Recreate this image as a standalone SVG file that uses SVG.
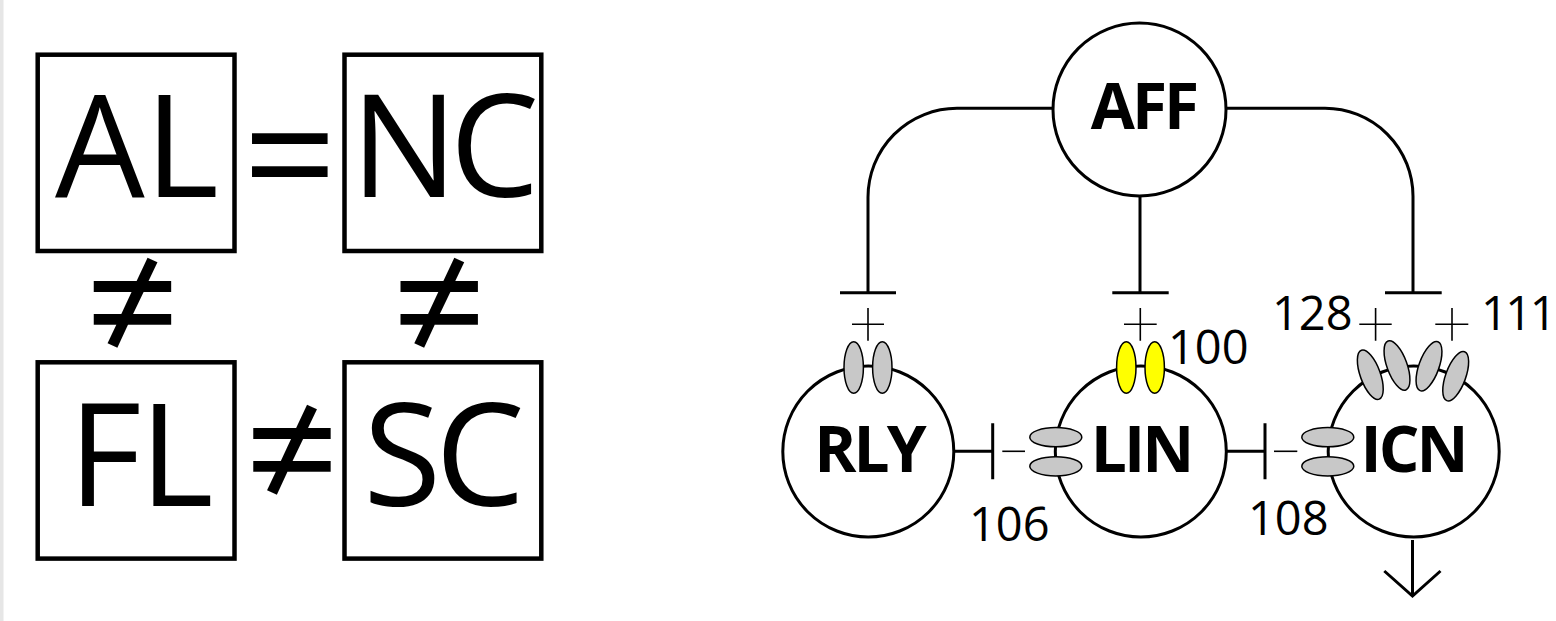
<svg xmlns="http://www.w3.org/2000/svg" width="1556" height="621" viewBox="0 0 1556 621">
  <defs>
    <style>
      .box { fill: #ffffff; stroke: #000000; stroke-width: 4.5; }
      .big { font-family: "Open Sans", "Liberation Sans", sans-serif; font-size: 142px; fill: #000000; text-anchor: middle; }
      .sym { font-family: "Open Sans", "DejaVu Sans", sans-serif; font-size: 165px; fill: #000000; text-anchor: middle; }
      .cell { fill: #ffffff; stroke: #000000; stroke-width: 3; }
      .name { font-family: "Open Sans", "Liberation Sans", sans-serif; font-weight: 700; font-size: 64px; fill: #000000; text-anchor: middle; letter-spacing: -3px; }
      .num { font-family: "Open Sans", "Liberation Sans", sans-serif; font-size: 47px; fill: #000000; }
      .wire { fill: none; stroke: #000000; stroke-width: 3; }
      .thin { fill: none; stroke: #000000; stroke-width: 1.6; }
      .syn { fill: #c8c8c8; stroke: #000000; stroke-width: 1.5; }
      .syny { fill: #ffff00; stroke: #000000; stroke-width: 1.5; }
    </style>
  </defs>
  <rect x="0" y="0" width="1556" height="621" fill="#ffffff"/>
  <rect x="0" y="0" width="3.5" height="621" fill="#e6e6e6"/>

  <!-- Left panel -->
  <g id="node-AL">
    <rect class="box" x="37.7" y="54.7" width="196.8" height="196.3"/>
    <text class="big" x="137" y="197">AL</text>
  </g>
  <g id="node-NC">
    <rect class="box" x="344.5" y="54.7" width="196.8" height="196.3"/>
    <text class="big" x="441" y="197" letter-spacing="-8">NC</text>
  </g>
  <g id="node-FL">
    <rect class="box" x="37.7" y="362.3" width="196.8" height="196.3"/>
    <text class="big" x="140" y="505.5" letter-spacing="-2">FL</text>
  </g>
  <g id="node-SC">
    <rect class="box" x="344.5" y="362.3" width="196.8" height="196.3"/>
    <text class="big" x="441" y="505.5" letter-spacing="-6">SC</text>
  </g>
  <g id="relations">
    <text class="sym" x="290" y="213">=</text>
    <text class="sym" x="132.5" y="361">≠</text>
    <text class="sym" x="439.2" y="361">≠</text>
    <text class="sym" x="292" y="508">≠</text>
  </g>

  <!-- Connectors -->
  <g id="connectors">
    <path class="wire" d="M1053,108.3 H957 A89,89 0 0 0 868,197.3 V292.7"/>
    <path class="wire" d="M1140,196 V292.7"/>
    <path class="wire" d="M1226,108.3 H1325 A88,88 0 0 1 1413,196.3 V292.7"/>
    <path class="wire" d="M840,292.7 H896 M1112.3,292.7 H1168.7 M1385,292.7 H1441.7"/>
    <path class="thin" d="M852,324.3 H884 M868,308 V340.7"/>
    <path class="thin" d="M1124,324.3 H1156.7 M1140.3,308 V340.7"/>
    <path class="thin" d="M1359.3,324.3 H1391.7 M1375.6,308 V340.7"/>
    <path class="thin" d="M1435.3,324.3 H1468.3 M1452,308 V340.7"/>
    <path class="wire" d="M954,451.3 H992.7 M992.7,423.3 V479.3"/>
    <path class="thin" d="M1002.3,451.3 H1025"/>
    <path class="wire" d="M1227,451.3 H1265 M1265,423.3 V479.3"/>
    <path class="thin" d="M1274,451.3 H1297.3"/>
    <path class="wire" d="M1412.5,540 V596 M1384.3,571 L1412.5,596 L1440.5,571"/>
  </g>

  <!-- Nodes -->
  <g id="node-AFF">
    <circle class="cell" cx="1139.5" cy="109.5" r="86.5"/>
    <text class="name" x="1143.5" y="129" letter-spacing="-2">AFF</text>
  </g>
  <g id="node-RLY">
    <circle class="cell" cx="868.3" cy="451.5" r="85.5"/>
    <ellipse class="syn" cx="853.7" cy="367.5" rx="9.7" ry="25.7"/>
    <ellipse class="syn" cx="882.3" cy="367.5" rx="9.7" ry="25.7"/>
    <text class="name" x="869" y="472.3">RLY</text>
  </g>
  <g id="node-LIN">
    <circle class="cell" cx="1140.8" cy="451.5" r="85.5"/>
    <ellipse class="syny" cx="1126.3" cy="367.5" rx="9.7" ry="25.7"/>
    <ellipse class="syny" cx="1154.7" cy="367.5" rx="9.7" ry="25.7"/>
    <ellipse class="syn" cx="1055.8" cy="437.2" rx="26" ry="9.6"/>
    <ellipse class="syn" cx="1055.8" cy="466.3" rx="26" ry="9.6"/>
    <text class="name" x="1141" y="472.3">LIN</text>
  </g>
  <g id="node-ICN">
    <circle class="cell" cx="1413.7" cy="451.5" r="85.5"/>
    <ellipse class="syn" cx="1370.3" cy="374.7" rx="10" ry="26" transform="rotate(-20 1370.3 374.7)"/>
    <ellipse class="syn" cx="1397" cy="365.5" rx="10" ry="26" transform="rotate(-20 1397 365.5)"/>
    <ellipse class="syn" cx="1429" cy="366.2" rx="10" ry="26" transform="rotate(20 1429 366.2)"/>
    <ellipse class="syn" cx="1455.7" cy="376.2" rx="10" ry="26" transform="rotate(20 1455.7 376.2)"/>
    <ellipse class="syn" cx="1327.8" cy="437.2" rx="26" ry="9.6"/>
    <ellipse class="syn" cx="1327.8" cy="466.3" rx="26" ry="9.6"/>
    <text class="name" x="1413" y="472.3">ICN</text>
  </g>

  <!-- Labels -->
  <g id="labels">
    <text class="num" x="1272" y="330">128</text>
    <text class="num" x="1481" y="330" letter-spacing="-2.5">111</text>
    <text class="num" x="1168" y="364.3">100</text>
    <text class="num" x="969" y="541">106</text>
    <text class="num" x="1248" y="535">108</text>
  </g>
</svg>
